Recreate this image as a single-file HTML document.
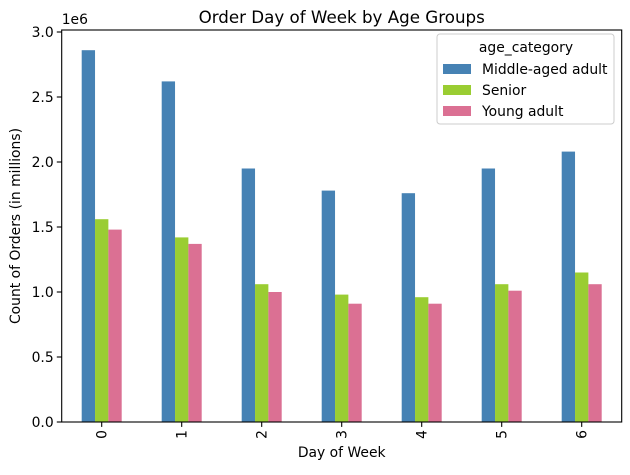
<!DOCTYPE html>
<html><head><meta charset="utf-8"><style>
body{margin:0;background:#fff;font-family:"Liberation Sans","DejaVu Sans",sans-serif;}
</style></head><body>
<svg id="chart" width="630" height="470" xmlns="http://www.w3.org/2000/svg" font-family="'DejaVu Sans','Liberation Sans',sans-serif">
<g id="marks"></g>
</svg>
<script>
const categories=["0","1","2","3","4","5","6"];
const middleAged=[2.86,2.62,1.95,1.78,1.76,1.95,2.08];
const senior=[1.56,1.42,1.06,0.98,0.96,1.06,1.15];
const young=[1.48,1.37,1.00,0.91,0.91,1.01,1.06];
const yTicks=[0,0.5,1.0,1.5,2.0,2.5,3.0];
const yTickLabels=["0.0","0.5","1.0","1.5","2.0","2.5","3.0"];
const seriesNames=["Middle-aged adult","Senior","Young adult"];
const colors=["#4682b4","#9acd32","#db7093"];
const L=61.7,R=621.7,T=30,B=422;
const yMax=(B-T)/130;
const x=i=>L+(i+0.5)*(R-L)/categories.length;
const y=v=>B-v/yMax*(B-T);
const NS="http://www.w3.org/2000/svg";
const svg=document.getElementById('chart');
function mk(t,a,txt){const e=document.createElementNS(NS,t);for(const k in a)e.setAttribute(k,a[k]);if(txt!==undefined)e.textContent=txt;svg.appendChild(e);return e;}
const bw=(R-L)/categories.length*0.5/3;
const all=[middleAged,senior,young];
all.forEach((s,si)=>{s.forEach((v,i)=>{
 const r=mk('rect',{x:x(i)-1.5*bw+si*bw,y:y(v),width:bw,height:B-y(v),fill:colors[si]});
 
 
});});
const ax=mk('rect',{x:L,y:T,width:R-L,height:B-T,fill:'none',stroke:'#000','stroke-width':1.1});

yTicks.forEach((v,i)=>{
 mk('line',{x1:L-4.9,x2:L,y1:y(v),y2:y(v),stroke:'#000','stroke-width':1.1});
 const t=mk('text',{x:L-8,y:y(v)+5,'font-size':13.9,'text-anchor':'end'},yTickLabels[i]);
 
});
categories.forEach((c,i)=>{
 mk('line',{x1:x(i),x2:x(i),y1:B,y2:B+4.9,stroke:'#000','stroke-width':1.1});
 const t=mk('text',{x:0,y:0,'font-size':13.9,'text-anchor':'end',transform:`translate(${x(i)+5},${B+8}) rotate(-90)`},c);
 
});
let t;
t=mk('text',{x:L,y:T-6,'font-size':13.9},'1e6');
t=mk('text',{x:(L+R)/2,y:T-7,'font-size':16.7,'text-anchor':'middle'},'Order Day of Week by Age Groups');
t=mk('text',{x:(L+R)/2,y:457,'font-size':13.9,'text-anchor':'middle'},'Day of Week');
t=mk('text',{x:0,y:0,'font-size':13.9,'text-anchor':'middle',transform:`translate(20,${(T+B)/2}) rotate(-90)`},'Count of Orders (in millions)');
const lg=mk('rect',{x:437,y:34,width:177,height:90,rx:3,fill:'#fff','fill-opacity':0.8,stroke:'#ccc','stroke-width':1});

t=mk('text',{x:526,y:52,'font-size':13.9,'text-anchor':'middle'},'age_category');
seriesNames.forEach((n,i)=>{
 const yy=64+i*21;
 mk('rect',{x:443,y:yy,width:28,height:10,fill:colors[i]});
 const e=mk('text',{x:482,y:yy+10,'font-size':13.9},n);
 
});
</script>
</body></html>
